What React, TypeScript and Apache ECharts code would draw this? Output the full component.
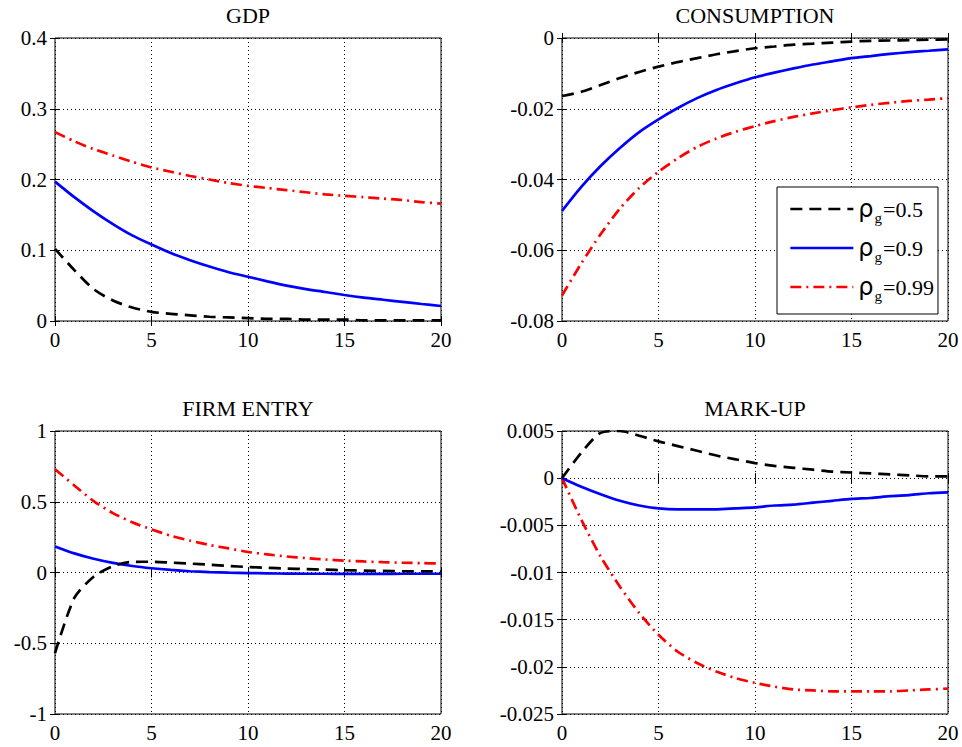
import React, { useEffect, useRef } from "react";
import * as echarts from "echarts";

// Quarters after the government-spending shock
const periods = [0, 1, 2, 3, 4, 5, 6, 7, 8, 9, 10, 11, 12, 13, 14, 15, 16, 17, 18, 19, 20];

// Persistence values of the spending shock
const rhoValues = ["0.5", "0.9", "0.99"];

// GDP responses
const gdpRho05 = [0.102, 0.072, 0.045, 0.029, 0.019, 0.013, 0.010, 0.008, 0.006, 0.005, 0.004, 0.003, 0.003, 0.002, 0.002, 0.002, 0.001, 0.001, 0.001, 0.001, 0.001];
const gdpRho09 = [0.197, 0.175, 0.155, 0.137, 0.121, 0.108, 0.096, 0.086, 0.077, 0.069, 0.0626, 0.056, 0.050, 0.045, 0.041, 0.0367, 0.033, 0.030, 0.027, 0.024, 0.0212];
const gdpRho099 = [0.267, 0.254, 0.243, 0.234, 0.225, 0.217, 0.211, 0.205, 0.200, 0.195, 0.191, 0.188, 0.185, 0.182, 0.179, 0.177, 0.175, 0.173, 0.171, 0.168, 0.166];

// Consumption responses
const consRho05 = [-0.0164, -0.0152, -0.0133, -0.0113, -0.0096, -0.0081, -0.0068, -0.0057, -0.0046, -0.0037, -0.0029, -0.0024, -0.0019, -0.0016, -0.0013, -0.0010, -0.0008, -0.0007, -0.0006, -0.0005, -0.0004];
const consRho09 = [-0.0489, -0.0421, -0.0362, -0.0311, -0.0266, -0.0230, -0.0198, -0.0170, -0.0147, -0.0128, -0.0111, -0.0098, -0.0086, -0.0075, -0.0066, -0.0057, -0.0051, -0.0045, -0.0040, -0.0036, -0.0032];
const consRho099 = [-0.0728, -0.0637, -0.0555, -0.0482, -0.0424, -0.0378, -0.0340, -0.0308, -0.0284, -0.0265, -0.0249, -0.0235, -0.0223, -0.0213, -0.0204, -0.0196, -0.0189, -0.0183, -0.0178, -0.0174, -0.0170];

// Firm entry responses
const entryRho05 = [-0.57, -0.18, -0.03, 0.045, 0.075, 0.076, 0.070, 0.063, 0.055, 0.046, 0.039, 0.033, 0.028, 0.024, 0.020, 0.016, 0.013, 0.011, 0.009, 0.008, 0.007];
const entryRho09 = [0.184, 0.135, 0.097, 0.068, 0.046, 0.030, 0.018, 0.009, 0.003, -0.001, -0.004, -0.006, -0.008, -0.009, -0.009, -0.010, -0.010, -0.010, -0.009, -0.009, -0.009];
const entryRho099 = [0.73, 0.615, 0.505, 0.42, 0.355, 0.305, 0.26, 0.225, 0.195, 0.17, 0.145, 0.128, 0.113, 0.102, 0.092, 0.084, 0.078, 0.073, 0.069, 0.066, 0.063];

// Mark-up responses
const markupRho05 = [0, 0.0027, 0.0048, 0.0050, 0.0045, 0.0039, 0.0034, 0.0029, 0.0024, 0.0020, 0.0016, 0.0013, 0.0011, 0.0009, 0.0007, 0.0006, 0.0005, 0.0004, 0.0003, 0.0002, 0.0002];
const markupRho09 = [0, -0.0009, -0.0017, -0.0024, -0.0029, -0.0032, -0.0033, -0.0033, -0.0033, -0.0032, -0.0031, -0.0029, -0.0028, -0.0026, -0.0024, -0.0022, -0.0021, -0.0019, -0.0018, -0.0016, -0.0015];
const markupRho099 = [0, -0.0044, -0.0083, -0.0115, -0.0143, -0.0166, -0.0184, -0.0196, -0.0205, -0.0212, -0.0217, -0.0221, -0.0224, -0.0225, -0.0226, -0.0226, -0.0226, -0.0226, -0.0225, -0.0224, -0.0223];

const panelTitles = ["GDP", "CONSUMPTION", "FIRM ENTRY", "MARK-UP"];
const yMins = [0, -0.08, -1, -0.025];
const yMaxs = [0.4, 0, 1, 0.005];
const yIntervals = [0.1, 0.02, 0.5, 0.005];
const panelSeries = [
  [gdpRho05, gdpRho09, gdpRho099],
  [consRho05, consRho09, consRho099],
  [entryRho05, entryRho09, entryRho099],
  [markupRho05, markupRho09, markupRho099],
];

const FONT = "'Times New Roman', 'Liberation Serif', 'DejaVu Serif', serif";
const lineColors = ["#000000", "#0000ff", "#ff0000"];
const lineDashes: any[] = [[12, 7], "solid", [11, 5, 2, 5]];

const gridBoxes = [
  { left: 55, top: 38 },
  { left: 562, top: 38 },
  { left: 55, top: 431 },
  { left: 562, top: 431 },
];
const GRID_W = 386;
const GRID_H = 283;

export default function App() {
  const ref = useRef<HTMLDivElement>(null);

  useEffect(() => {
    if (!ref.current) return;
    const chart = echarts.init(ref.current, null, { renderer: "svg" });

    const dotted = { show: true, lineStyle: { color: "#000", width: 1, type: [1, 3] as any } };
    const labelStyle = { color: "#000", fontFamily: FONT, fontSize: 21 };
    const tick = { show: true, inside: true, length: 5, lineStyle: { color: "#000" } };

    const grids = gridBoxes.map((g) => ({
      left: g.left,
      top: g.top,
      width: GRID_W,
      height: GRID_H,
      show: true,
      borderColor: "#000",
      borderWidth: 1,
      backgroundColor: "#fff",
    }));

    const xAxes: any[] = [];
    const yAxes: any[] = [];
    gridBoxes.forEach((_, p) => {
      xAxes.push({
        type: "value",
        gridIndex: p,
        position: "bottom",
        min: 0,
        max: 20,
        interval: 5,
        axisLine: { show: false },
        axisTick: tick,
        axisLabel: { ...labelStyle, margin: 8 },
        splitLine: dotted,
      });
      xAxes.push({
        type: "value",
        gridIndex: p,
        position: "top",
        min: 0,
        max: 20,
        interval: 5,
        axisLine: { show: false },
        axisTick: tick,
        axisLabel: { show: false },
        splitLine: { show: false },
      });
      yAxes.push({
        type: "value",
        gridIndex: p,
        position: "left",
        min: yMins[p],
        max: yMaxs[p],
        interval: yIntervals[p],
        axisLine: { show: false },
        axisTick: tick,
        axisLabel: { ...labelStyle, margin: 8 },
        splitLine: dotted,
      });
      yAxes.push({
        type: "value",
        gridIndex: p,
        position: "right",
        min: yMins[p],
        max: yMaxs[p],
        interval: yIntervals[p],
        axisLine: { show: false },
        axisTick: tick,
        axisLabel: { show: false },
        splitLine: { show: false },
      });
    });

    const series: any[] = [];
    panelSeries.forEach((group, p) => {
      group.forEach((values, k) => {
        series.push({
          type: "line",
          name: rhoValues[k],
          xAxisIndex: 2 * p,
          yAxisIndex: 2 * p,
          data: periods.map((t, i) => [t, values[i]]),
          symbol: "none",
          smooth: 0.25,
          z: 3 + (2 - k),
          lineStyle: { color: lineColors[k], width: 2.7, type: lineDashes[k] },
          itemStyle: { color: lineColors[k] },
        });
      });
    });

    const titles = panelTitles.map((text, p) => ({
      text,
      left: gridBoxes[p].left + GRID_W / 2,
      top: gridBoxes[p].top - 34,
      textAlign: "center",
      padding: 0,
      textStyle: { color: "#000", fontFamily: FONT, fontSize: 22, fontWeight: "normal" },
    }));

    chart.setOption({
      animation: false,
      backgroundColor: "#fff",
      title: titles,
      grid: grids,
      xAxis: xAxes,
      yAxis: yAxes,
      series,
      legend: {
        data: rhoValues,
        orient: "vertical",
        left: 777,
        top: 187,
        padding: [6, 4, 11, 12],
        itemGap: 7,
        itemWidth: 63,
        itemHeight: 14,
        backgroundColor: "#fff",
        borderColor: "#000",
        borderWidth: 1,
        borderRadius: 0,
        selectedMode: false,
        itemStyle: { opacity: 0 },
        lineStyle: { width: 2.7 },
        formatter: (name: string) => `{r|ρ}{s|g}{v|=${name}}`,
        textStyle: {
          color: "#000",
          fontFamily: FONT,
          rich: {
            r: { fontSize: 24, fontFamily: "DejaVu Sans", lineHeight: 22, color: "#000" },
            s: { fontSize: 15, fontFamily: FONT, lineHeight: 15, padding: [17, 1, 0, 1], color: "#000" },
            v: { fontSize: 22, fontFamily: FONT, lineHeight: 22, color: "#000" },
          },
        },
      },
    });

    return () => chart.dispose();
  }, []);

  return (
    <div
      ref={ref}
      style={{ position: "fixed", left: 0, top: 0, width: 962, height: 747, background: "#fff" }}
    />
  );
}
